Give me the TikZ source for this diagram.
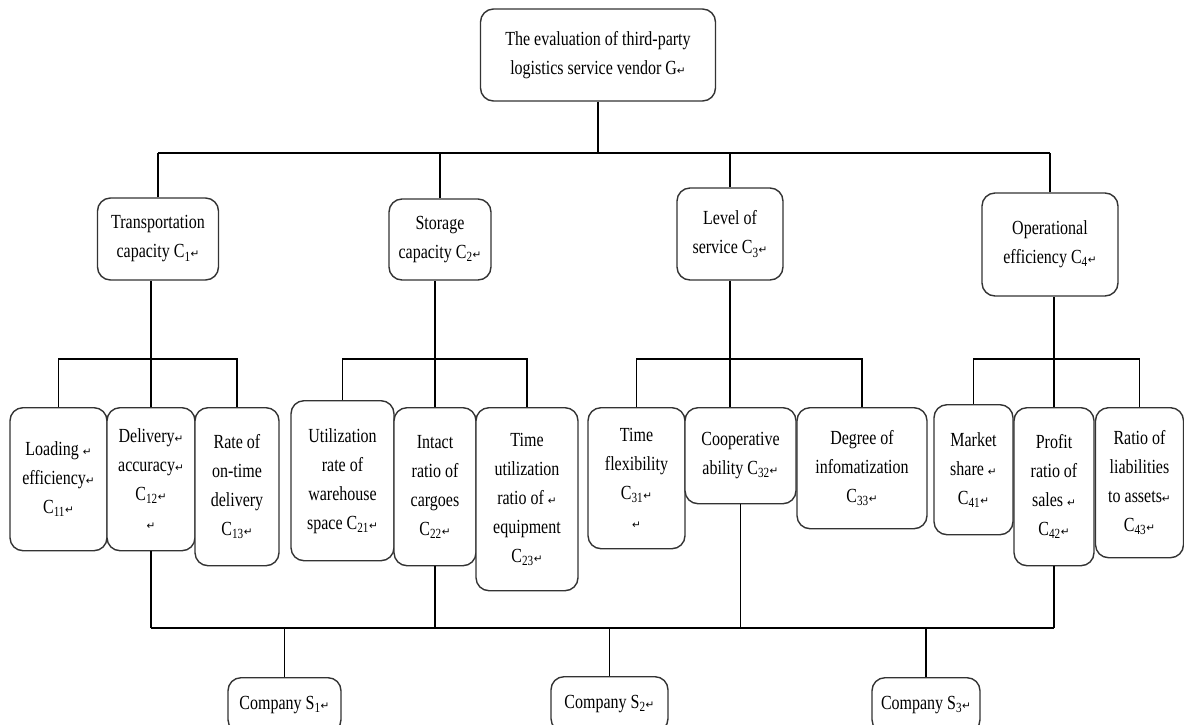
\documentclass[tikz,border=0pt]{standalone}
\usepackage{fontspec}
\setmainfont[FakeStretch=0.8]{Liberation Serif}
\newfontfamily\retfont{DejaVu Sans}
\newcommand{\retmark}{{\retfont\fontsize{10.5}{10.5}\selectfont ↵}}
\usetikzlibrary{positioning}

\begin{document}
\begin{tikzpicture}[x=1pt,y=-1pt,
	box/.style={draw=black!80,line width=1.4pt,rounded corners=13pt,fill=white,align=center,inner sep=2pt,font=\fontsize{20}{29}\selectfont},
	bar/.style={line width=2pt},
	link/.style={line width=1.3pt}]
		\useasboundingbox (0,0) rectangle (1184,724);

		\node[box,minimum width=235pt,minimum height=92pt] (G) at (598,55) {The evaluation of third-party\\logistics service vendor G\retmark};

		\node[box,minimum width=121pt,minimum height=82pt] (C1) at (158,239) {Transportation\\capacity C\textsubscript{1}\retmark};
		\node[box,minimum width=102pt,minimum height=81pt] (C2) at (440,239.5) {Storage\\capacity C\textsubscript{2}\retmark};
		\node[box,minimum width=106pt,minimum height=92pt] (C3) at (730,234) {Level of\\service C\textsubscript{3}\retmark};
		\node[box,minimum width=136pt,minimum height=103pt] (C4) at (1050,244.5) {Operational\\efficiency C\textsubscript{4}\retmark};

		\node[box,anchor=north,minimum width=97pt,minimum height=143pt] (C11) at (58.5,407) {Loading \retmark\\efficiency\retmark\\C\textsubscript{11}\retmark};
		\node[box,anchor=north,minimum width=88pt,minimum height=143pt] (C12) at (151,407) {Delivery\retmark\\accuracy\retmark\\C\textsubscript{12}\retmark\\\retmark};
		\node[box,anchor=north,minimum width=84pt,minimum height=158pt] (C13) at (237,407) {Rate of\\on-time\\delivery\\C\textsubscript{13}\retmark};

		\node[box,anchor=north,minimum width=103pt,minimum height=160pt] (C21) at (342.5,400) {Utilization\\rate of\\warehouse\\space C\textsubscript{21}\retmark};
		\node[box,anchor=north,minimum width=82pt,minimum height=158pt] (C22) at (435,407) {Intact\\ratio of\\cargoes\\C\textsubscript{22}\retmark};
		\node[box,anchor=north,minimum width=102pt,minimum height=183pt] (C23) at (527,407) {Time\\utilization\\ratio of \retmark\\equipment\\C\textsubscript{23}\retmark};

		\node[box,anchor=north,minimum width=97pt,minimum height=141pt] (C31) at (636.5,407) {Time\\flexibility\\C\textsubscript{31}\retmark\\\retmark};
		\node[box,anchor=north,minimum width=111pt,minimum height=96pt] (C32) at (740.5,407) {Cooperative\\ability C\textsubscript{32}\retmark};
		\node[box,anchor=north,minimum width=130pt,minimum height=121pt] (C33) at (862,407) {Degree of\\infomatization\\C\textsubscript{33}\retmark};

		\node[box,anchor=north,minimum width=79pt,minimum height=130pt] (C41) at (973.5,404) {Market\\share \retmark\\C\textsubscript{41}\retmark};
		\node[box,anchor=north,minimum width=80pt,minimum height=158pt] (C42) at (1054,407) {Profit\\ratio of\\sales \retmark\\C\textsubscript{42}\retmark};
		\node[box,anchor=north,minimum width=88pt,minimum height=150pt] (C43) at (1139.5,407) {Ratio of\\liabilities\\to assets\retmark\\C\textsubscript{43}\retmark};

		\node[box,anchor=north,minimum width=113pt,minimum height=55pt] (S1) at (284.5,677) {Company S\textsubscript{1}\retmark};
		\node[box,anchor=north,minimum width=117pt,minimum height=55pt] (S2) at (609.5,676) {Company S\textsubscript{2}\retmark};
		\node[box,anchor=north,minimum width=108pt,minimum height=55pt] (S3) at (926,677) {Company S\textsubscript{3}\retmark};

		\coordinate (busG) at (0,153);
		\coordinate (busC) at (0,359);
		\coordinate (busS) at (0,628);

		% goal to criteria
		\draw[link] (G.south) -- (G.south |- busG);
		\draw[bar] (C1.north |- busG) -- (C4.north |- busG);
		\draw[link] (C1.north) -- (C1.north |- busG);
		\draw[link] (C2.north) -- (C2.north |- busG);
		\draw[link] (C3.north) -- (C3.north |- busG);
		\draw[link] (C4.north) -- (C4.north |- busG);

		% criteria to sub-criteria
		\draw[link] (C11.north) |- (C13.north |- busC) -- (C13.north);
		\draw[link] (C12.north) -- (C12.north |- C1.south);
		\draw[link] (C21.north) |- (C23.north |- busC) -- (C23.north);
		\draw[link] (C22.north) -- (C22.north |- C2.south);
		\draw[link] (C31.north) |- (C33.north |- busC) -- (C33.north);
		\draw[link] (C3.south) -- (C3.south |- C32.north);
		\draw[link] (C41.north) |- (C43.north |- busC) -- (C43.north);
		\draw[link] (C42.north) -- (C42.north |- C4.south);

		% sub-criteria to companies
		\draw[bar] (C12.south |- busS) -- (C42.south |- busS);
		\draw[link] (C12.south) -- (C12.south |- busS);
		\draw[link] (C22.south) -- (C22.south |- busS);
		\draw[link] (C32.south) -- (C32.south |- busS);
		\draw[link] (C42.south) -- (C42.south |- busS);
		\draw[link] (S1.north) -- (S1.north |- busS);
		\draw[link] (S2.north) -- (S2.north |- busS);
		\draw[link] (S3.north) -- (S3.north |- busS);
	\end{tikzpicture}
\end{document}
